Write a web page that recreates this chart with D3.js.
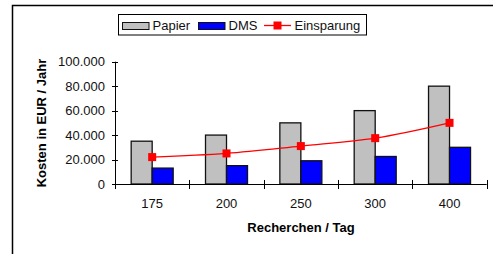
<!DOCTYPE html>
<html>
<head>
<meta charset="utf-8">
<script src="https://cdn.jsdelivr.net/npm/d3@7"></script>
<style>
body { margin: 0; background: #fff; }
svg { display: block; font-family: "Liberation Sans", Arial, sans-serif; }
</style>
</head>
<body>
<script>
var kategorien = ["175", "200", "250", "300", "400"];
var papier = [35000, 40000, 50000, 60000, 80000];
var dms = [13000, 15000, 19000, 22500, 30000];
var einsparung = [22000, 25000, 31000, 37500, 50000];
var yTicks = [0, 20000, 40000, 60000, 80000, 100000];

var svg = d3.select("body").append("svg")
    .attr("width", 493)
    .attr("height", 254);

// rahmen (nur oben und links sichtbar)
svg.append("path")
    .attr("d", "M12.5,254V5.5H493")
    .attr("fill", "none")
    .attr("stroke", "#000")
    .attr("stroke-width", 1.5);

var x = d3.scaleBand().domain(kategorien).range([115, 486.7]);
var y = d3.scaleLinear().domain([0, 100000]).range([184, 61.7]);
var fmt = function(d) { return d3.format(",")(d).replace(/,/g, "."); };

var barW = 21;

// y achse
svg.append("line")
    .attr("x1", 115.5).attr("x2", 115.5)
    .attr("y1", y(100000)).attr("y2", y(0))
    .attr("stroke", "#000");
svg.selectAll(".yt").data(yTicks).enter().append("line")
    .attr("x1", 112).attr("x2", 118)
    .attr("y1", function(d) { return Math.round(y(d)) + 0.5; })
    .attr("y2", function(d) { return Math.round(y(d)) + 0.5; })
    .attr("stroke", "#000");
svg.selectAll(".yl").data(yTicks).enter().append("text")
    .attr("x", 105)
    .attr("y", function(d) { return y(d) + 4.5; })
    .attr("text-anchor", "end")
    .attr("font-size", 13)
    .attr("fill", "#111")
    .text(fmt);

// balken
svg.selectAll(".papier").data(papier).enter().append("rect")
    .attr("x", function(d, i) { return x(kategorien[i]) + x.bandwidth() / 2 - barW; })
    .attr("y", function(d) { return y(d); })
    .attr("width", barW)
    .attr("height", function(d) { return y(0) - y(d); })
    .attr("fill", "#c0c0c0")
    .attr("stroke", "#111")
    .attr("stroke-width", 1.3);
svg.selectAll(".dms").data(dms).enter().append("rect")
    .attr("x", function(d, i) { return x(kategorien[i]) + x.bandwidth() / 2; })
    .attr("y", function(d) { return y(d); })
    .attr("width", barW)
    .attr("height", function(d) { return y(0) - y(d); })
    .attr("fill", "#0000ff")
    .attr("stroke", "#111")
    .attr("stroke-width", 1.3);

// x achse
svg.append("line")
    .attr("x1", 115).attr("x2", 486.7)
    .attr("y1", 184.5).attr("y2", 184.5)
    .attr("stroke", "#000");
var xt = kategorien.map(function(k) { return x(k); }).concat([x.range()[1]]);
svg.selectAll(".xt").data(xt).enter().append("line")
    .attr("x1", function(d) { return Math.round(d) + 0.5; })
    .attr("x2", function(d) { return Math.round(d) + 0.5; })
    .attr("y1", 180).attr("y2", 189)
    .attr("stroke", "#000");
svg.selectAll(".xl").data(kategorien).enter().append("text")
    .attr("x", function(d) { return x(d) + x.bandwidth() / 2; })
    .attr("y", 208)
    .attr("text-anchor", "middle")
    .attr("font-size", 13)
    .attr("fill", "#111")
    .text(function(d) { return d; });

// linie einsparung
var line = d3.line()
    .x(function(d, i) { return x(kategorien[i]) + x.bandwidth() / 2; })
    .y(function(d) { return y(d); })
    .curve(d3.curveCatmullRom);
svg.append("path")
    .attr("d", line(einsparung))
    .attr("fill", "none")
    .attr("stroke", "#ff0000")
    .attr("stroke-width", 1.3);
svg.selectAll(".mk").data(einsparung).enter().append("rect")
    .attr("x", function(d, i) { return x(kategorien[i]) + x.bandwidth() / 2 - 4; })
    .attr("y", function(d) { return y(d) - 4; })
    .attr("width", 8).attr("height", 8)
    .attr("fill", "#ff0000");

// achsentitel
svg.append("text")
    .attr("x", 301).attr("y", 232)
    .attr("text-anchor", "middle")
    .attr("font-size", 13)
    .attr("font-weight", "bold")
    .text("Recherchen / Tag");
svg.append("text")
    .attr("transform", "translate(46,123) rotate(-90)")
    .attr("text-anchor", "middle")
    .attr("font-size", 13)
    .attr("font-weight", "bold")
    .text("Kosten in EUR / Jahr");

// legende
var lg = svg.append("g");
lg.append("rect")
    .attr("x", 118.5).attr("y", 14.5)
    .attr("width", 248).attr("height", 20.5)
    .attr("fill", "#fff").attr("stroke", "#000");
lg.append("rect").attr("x", 122.5).attr("y", 22.5).attr("width", 26.5).attr("height", 7)
    .attr("fill", "#c0c0c0").attr("stroke", "#111");
lg.append("text").attr("x", 152.5).attr("y", 30).attr("font-size", 13).attr("fill", "#111").text("Papier");
lg.append("rect").attr("x", 198.5).attr("y", 22.5).attr("width", 26.5).attr("height", 7)
    .attr("fill", "#0000ff").attr("stroke", "#111");
lg.append("text").attr("x", 228.5).attr("y", 30).attr("font-size", 13).attr("fill", "#111").text("DMS");
lg.append("line").attr("x1", 264).attr("x2", 291).attr("y1", 25.5).attr("y2", 25.5)
    .attr("stroke", "#ff0000").attr("stroke-width", 1.3);
lg.append("rect").attr("x", 273.5).attr("y", 21.5).attr("width", 8).attr("height", 8).attr("fill", "#ff0000");
lg.append("text").attr("x", 294.5).attr("y", 30).attr("font-size", 13).attr("fill", "#111").text("Einsparung");
</script>
</body>
</html>
